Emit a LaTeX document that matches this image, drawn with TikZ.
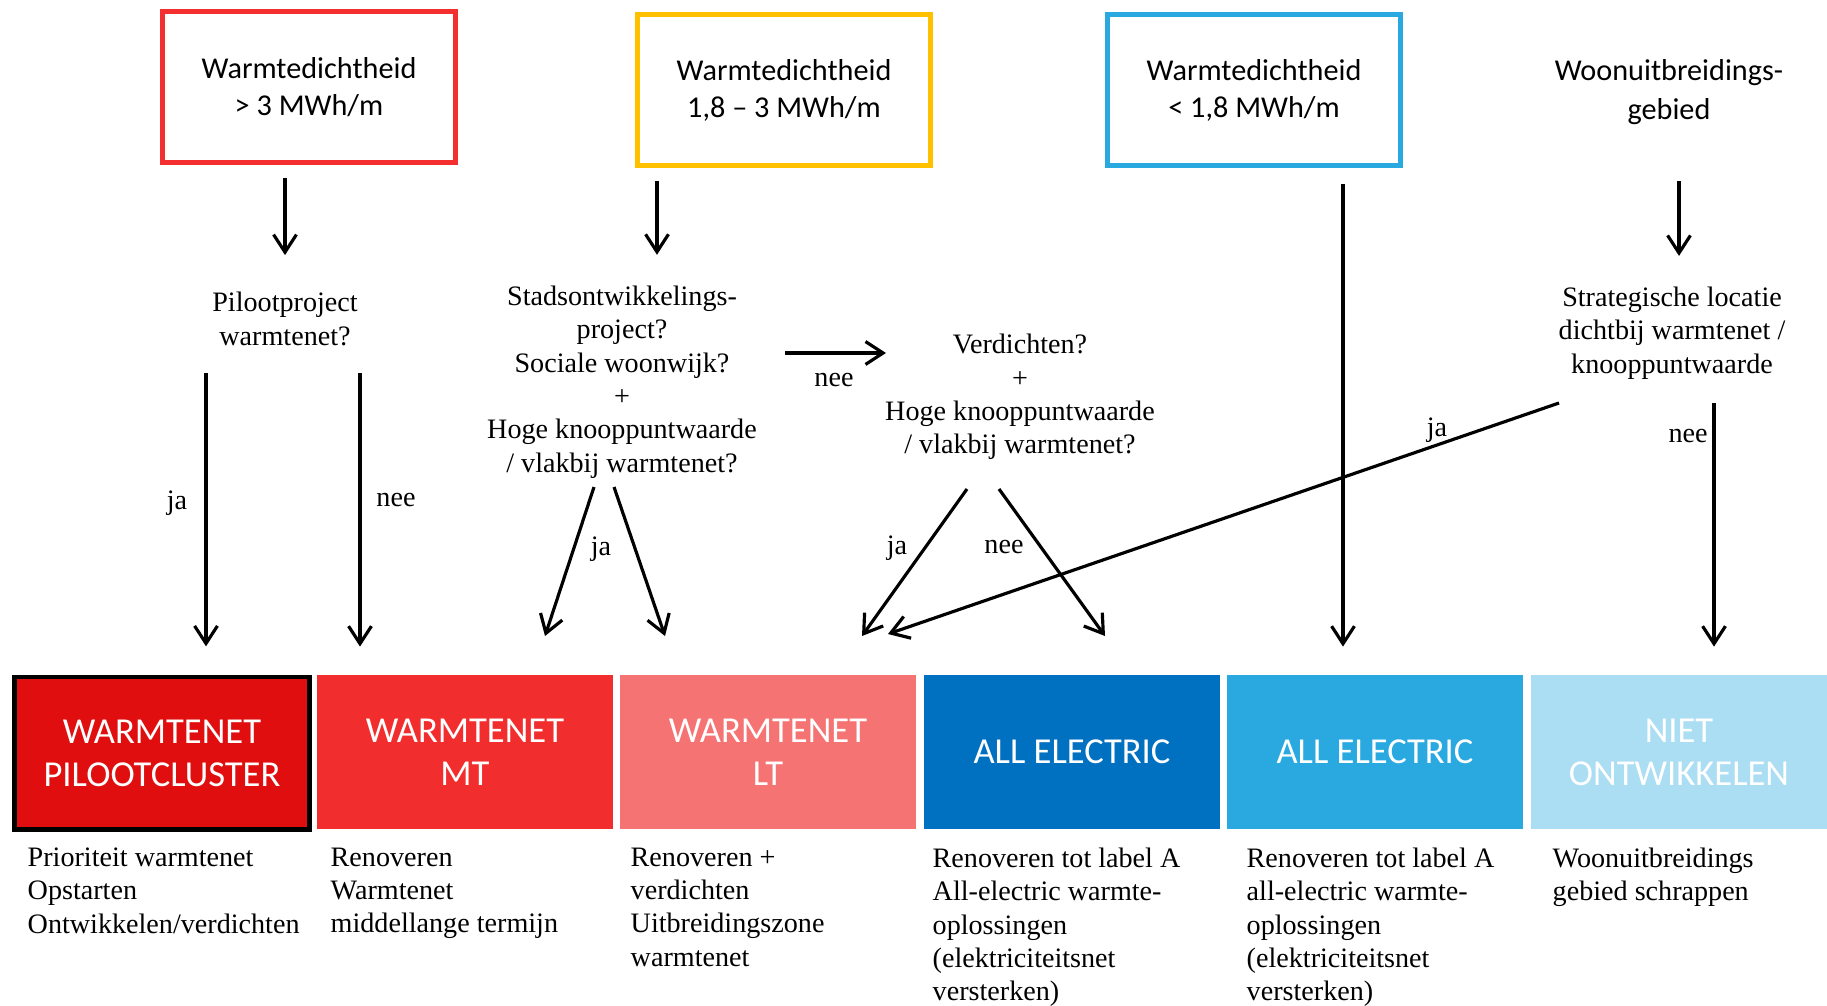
\documentclass[tikz,border=0pt]{standalone}
\usepackage{fontspec}
\setmainfont{Liberation Serif}
\newfontfamily\calibri{Carlito}
\usetikzlibrary{arrows.meta}
\definecolor{kaderrood}{HTML}{F32F2F}
\definecolor{kadergeel}{HTML}{FFC000}
\definecolor{kaderblauw}{HTML}{2AA9E0}
\definecolor{pilootrood}{HTML}{E00E0E}
\definecolor{mtrood}{HTML}{F22D2D}
\definecolor{ltrood}{HTML}{F57373}
\definecolor{aeblauw}{HTML}{0070C0}
\definecolor{aelicht}{HTML}{29A9E0}
\definecolor{nietblauw}{HTML}{ABDDF3}
\tikzset{
  pijl/.style={-{Straight Barb[length=5pt,width=6.5pt]}, line width=0.9pt},
  kop/.style={draw, line width=1.4pt, minimum width=2.93cm, minimum height=1.51cm,
    align=center, font=\calibri\fontsize{8.6}{10.5}\selectfont},
  vraag/.style={align=center, inner sep=0pt, font=\fontsize{8}{9.5}\selectfont},
  antw/.style={inner sep=0pt, font=\fontsize{8}{9.5}\selectfont},
  uitkomst/.style={minimum width=2.96cm, minimum height=1.53cm, align=center,
    text=white, font=\calibri\fontsize{10.4}{12.2}\selectfont},
  uitleg/.style={anchor=north west, align=left, inner sep=0pt,
    font=\fontsize{8}{9.5}\selectfont}
}
\begin{document}
\begin{tikzpicture}[x=0.01cm,y=-0.01cm]
  \useasboundingbox (0,0) rectangle (1827,1006);
  % bovenste rij
  \node[kop, draw=kaderrood] (rood) at (309,87) {Warmtedichtheid\\> 3 MWh/m};
  \node[kop, draw=kadergeel] (geel) at (784,90) {Warmtedichtheid\\1,8 – 3 MWh/m};
  \node[kop, draw=kaderblauw] (blauw) at (1254,90) {Warmtedichtheid\\< 1,8 MWh/m};
  \node[align=center, font=\calibri\fontsize{8.6}{11.2}\selectfont] (woon) at (1669,92)
    {Woonuitbreidings-\\gebied};
  % vragen
  \node[vraag] (pilot) at (285,319) {Pilootproject\\warmtenet?};
  \node[vraag] (stad) at (622,382) {Stadsontwikkelings-\\project?\\Sociale woonwijk?\\+\\
    Hoge knooppuntwaarde\\/ vlakbij warmtenet?};
  \node[vraag] (verd) at (1020,397) {Verdichten?\\+\\Hoge knooppuntwaarde\\/ vlakbij warmtenet?};
  \node[vraag] (strat) at (1672,333) {Strategische locatie\\dichtbij warmtenet /\\knooppuntwaarde};
  % uitkomsten
  \node[uitkomst, fill=pilootrood, draw=black, line width=1.4pt, minimum width=2.94cm,
    minimum height=1.52cm] (uit1) at (162,753) {WARMTENET\\PILOOTCLUSTER};
  \node[uitkomst, fill=mtrood] (uit2) at (465,752) {WARMTENET\\MT};
  \node[uitkomst, fill=ltrood] (uit3) at (768,752) {WARMTENET\\LT};
  \node[uitkomst, fill=aeblauw] (uit4) at (1072,752) {ALL ELECTRIC};
  \node[uitkomst, fill=aelicht] (uit5) at (1375,752) {ALL ELECTRIC};
  \node[uitkomst, fill=nietblauw] (uit6) at (1679,752) {NIET\\ONTWIKKELEN};
  % toelichting
  \node[uitleg] (tekst1) at (27,847) {Prioriteit warmtenet\\Opstarten\\Ontwikkelen/verdichten};
  \node[uitleg] (tekst2) at (330,847) {Renoveren\\Warmtenet\\middellange termijn};
  \node[uitleg] (tekst3) at (630,847) {Renoveren +\\verdichten\\Uitbreidingszone\\warmtenet};
  \node[uitleg] (tekst4) at (932,847) {Renoveren tot label A\\All-electric warmte-\\oplossingen\\
    (elektriciteitsnet\\versterken)};
  \node[uitleg] (tekst5) at (1246,847) {Renoveren tot label A\\all-electric warmte-\\oplossingen\\
    (elektriciteitsnet\\versterken)};
  \node[uitleg] (tekst6) at (1552,847) {Woonuitbreidings\\gebied schrappen};
  % begin- en eindpunten van de pijlen
  \coordinate (rood-uit) at (285,178);
  \coordinate (geel-uit) at (657,181);
  \coordinate (blauw-uit) at (1343,184);
  \coordinate (woon-uit) at (1679,181);
  \coordinate (pilot-ja) at (206,373);
  \coordinate (pilot-nee) at (360,373);
  \coordinate (stad-nee) at (785,353);
  \coordinate (verd-in) at (886,353);
  \coordinate (stad-ja1) at (594,487);
  \coordinate (stad-ja2) at (614,487);
  \coordinate (lt-in1) at (545,636);
  \coordinate (lt-in2) at (665,636);
  \coordinate (verd-ja) at (967,489);
  \coordinate (verd-nee) at (999,489);
  \coordinate (lt-in3) at (862,636);
  \coordinate (ae-in) at (1105,636);
  \coordinate (strat-ja) at (1559,403);
  \coordinate (lt-in4) at (888,634);
  \coordinate (strat-nee) at (1714,403);
  % pijlen
  \draw[pijl, shorten >=10.4pt] (rood-uit) -- (rood-uit |- pilot.north);
  \draw[pijl, shorten >=8.6pt] (geel-uit) -- (geel-uit |- stad.north);
  \draw[pijl, shorten >=8pt] (blauw-uit) -- (blauw-uit |- uit5.north);
  \draw[pijl, shorten >=8.6pt] (woon-uit) -- (woon-uit |- strat.north);
  \draw[pijl, shorten >=8pt] (pilot-ja) -- (pilot-ja |- uit1.north);
  \node[antw] (pilot-ja-label) at (177,503) {ja};
  \draw[pijl, shorten >=8pt] (pilot-nee) -- (pilot-nee |- uit2.north);
  \node[antw] (pilot-nee-label) at (396,500) {nee};
  \draw[pijl] (stad-nee) -- (verd-in);
  \node[antw] (stad-nee-label) at (834,380) {nee};
  \draw[pijl] (stad-ja1) -- (lt-in1);
  \draw[pijl] (stad-ja2) -- (lt-in2);
  \node[antw] (stad-ja-label) at (601,549) {ja};
  \draw[pijl] (verd-ja) -- (lt-in3);
  \node[antw] (verd-ja-label) at (897,548) {ja};
  \draw[pijl] (verd-nee) -- (ae-in);
  \node[antw] (verd-nee-label) at (1004,547) {nee};
  \draw[pijl] (strat-ja) -- (lt-in4);
  \node[antw] (strat-ja-label) at (1437,430) {ja};
  \draw[pijl, shorten >=8pt] (strat-nee) -- (strat-nee |- uit6.north);
  \node[antw] (strat-nee-label) at (1688,436) {nee};
\end{tikzpicture}
\end{document}
